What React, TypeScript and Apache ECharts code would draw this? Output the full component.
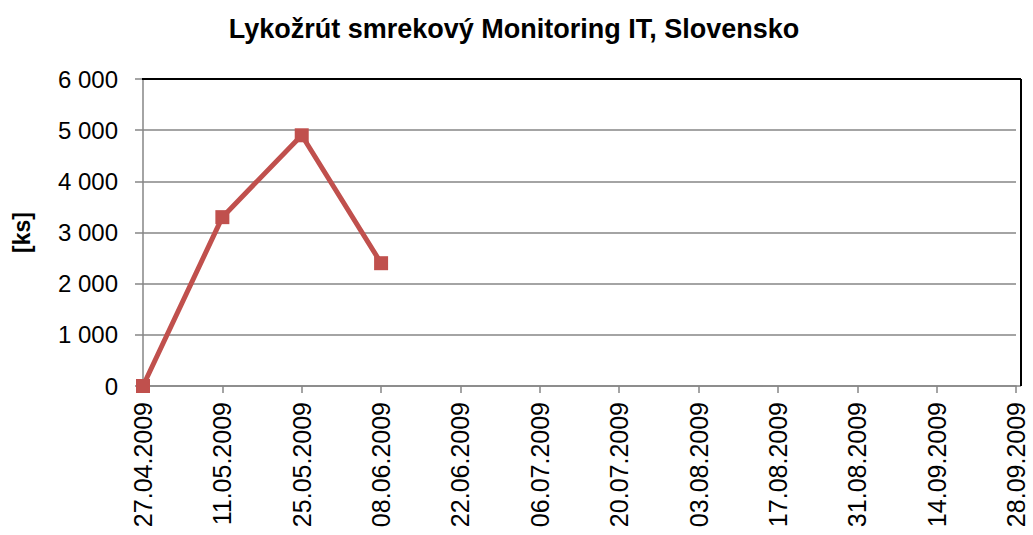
import React, { useEffect, useRef } from "react";
import * as echarts from "echarts";

const categories = [
  "27.04.2009", "11.05.2009", "25.05.2009", "08.06.2009", "22.06.2009", "06.07.2009",
  "20.07.2009", "03.08.2009", "17.08.2009", "31.08.2009", "14.09.2009", "28.09.2009",
];
const values: (number | null)[] = [0, 3300, 4900, 2400, null, null, null, null, null, null, null, null];
const yTicks = { min: 0, max: 6000, interval: 1000 };
const titleText = "Lykožrút smrekový Monitoring IT, Slovensko";
const yName = "[ks]";

const FONT = "'Liberation Sans', Arial, sans-serif";

export default function App() {
  const ref = useRef<HTMLDivElement>(null);
  useEffect(() => {
    document.body.style.margin = "0";
    const chart = echarts.init(ref.current!, null, { renderer: "svg" });
    const L = 143, T = 79, R = 1016, B = 386, RB = 1021;
    chart.setOption({
      animation: false,
      backgroundColor: "#ffffff",
      title: {
        text: titleText,
        left: 509,
        textAlign: "center",
        top: 10,
        textStyle: { fontFamily: FONT, fontSize: 27, fontWeight: "bold", color: "#000" },
      },
      grid: { left: L, top: T, right: 1033 - R, bottom: 535 - B, containLabel: false },
      xAxis: {
        type: "category",
        data: categories,
        boundaryGap: false,
        axisLine: { lineStyle: { color: "#868686", width: 1.5 } },
        axisTick: { show: true, length: 7, lineStyle: { color: "#868686", width: 1.5 } },
        axisLabel: {
          rotate: 90,
          interval: 0,
          margin: 16,
          fontFamily: FONT,
          fontSize: 25,
          color: "#000",
        },
        splitLine: { show: false },
      },
      yAxis: {
        type: "value",
        min: yTicks.min,
        max: yTicks.max,
        interval: yTicks.interval,
        name: yName,
        nameLocation: "middle",
        nameGap: 110,
        nameRotate: 90,
        nameTextStyle: { fontFamily: FONT, fontSize: 23, fontWeight: "bold", color: "#000" },
        axisLine: { show: true, lineStyle: { color: "#868686", width: 1.5 } },
        axisTick: { show: true, length: 8, lineStyle: { color: "#868686", width: 1.5 } },
        axisLabel: {
          margin: 25,
          fontFamily: FONT,
          fontSize: 24,
          color: "#000",
          formatter: (v: number) => String(v).replace(/\B(?=(\d{3})+(?!\d))/g, " "),
        },
        splitLine: { show: true, lineStyle: { color: "#868686", width: 1.5 } },
      },
      graphic: [
        { type: "line", shape: { x1: R, y1: B, x2: RB, y2: B }, style: { stroke: "#868686", lineWidth: 1.5 }, silent: true },
        { type: "line", shape: { x1: L - 1, y1: T, x2: RB, y2: T }, style: { stroke: "#000", lineWidth: 2 }, silent: true, z: 10 },
        { type: "line", shape: { x1: RB, y1: T, x2: RB, y2: B }, style: { stroke: "#000", lineWidth: 2 }, silent: true, z: 10 },
      ],
      series: [
        {
          type: "line",
          data: values,
          connectNulls: false,
          symbol: "rect",
          symbolSize: 14,
          lineStyle: { color: "#C0504D", width: 5 },
          itemStyle: { color: "#C0504D" },
          z: 5,
        },
      ],
    });
    return () => chart.dispose();
  }, []);
  return <div ref={ref} style={{ width: 1033, height: 535 }} />;
}
